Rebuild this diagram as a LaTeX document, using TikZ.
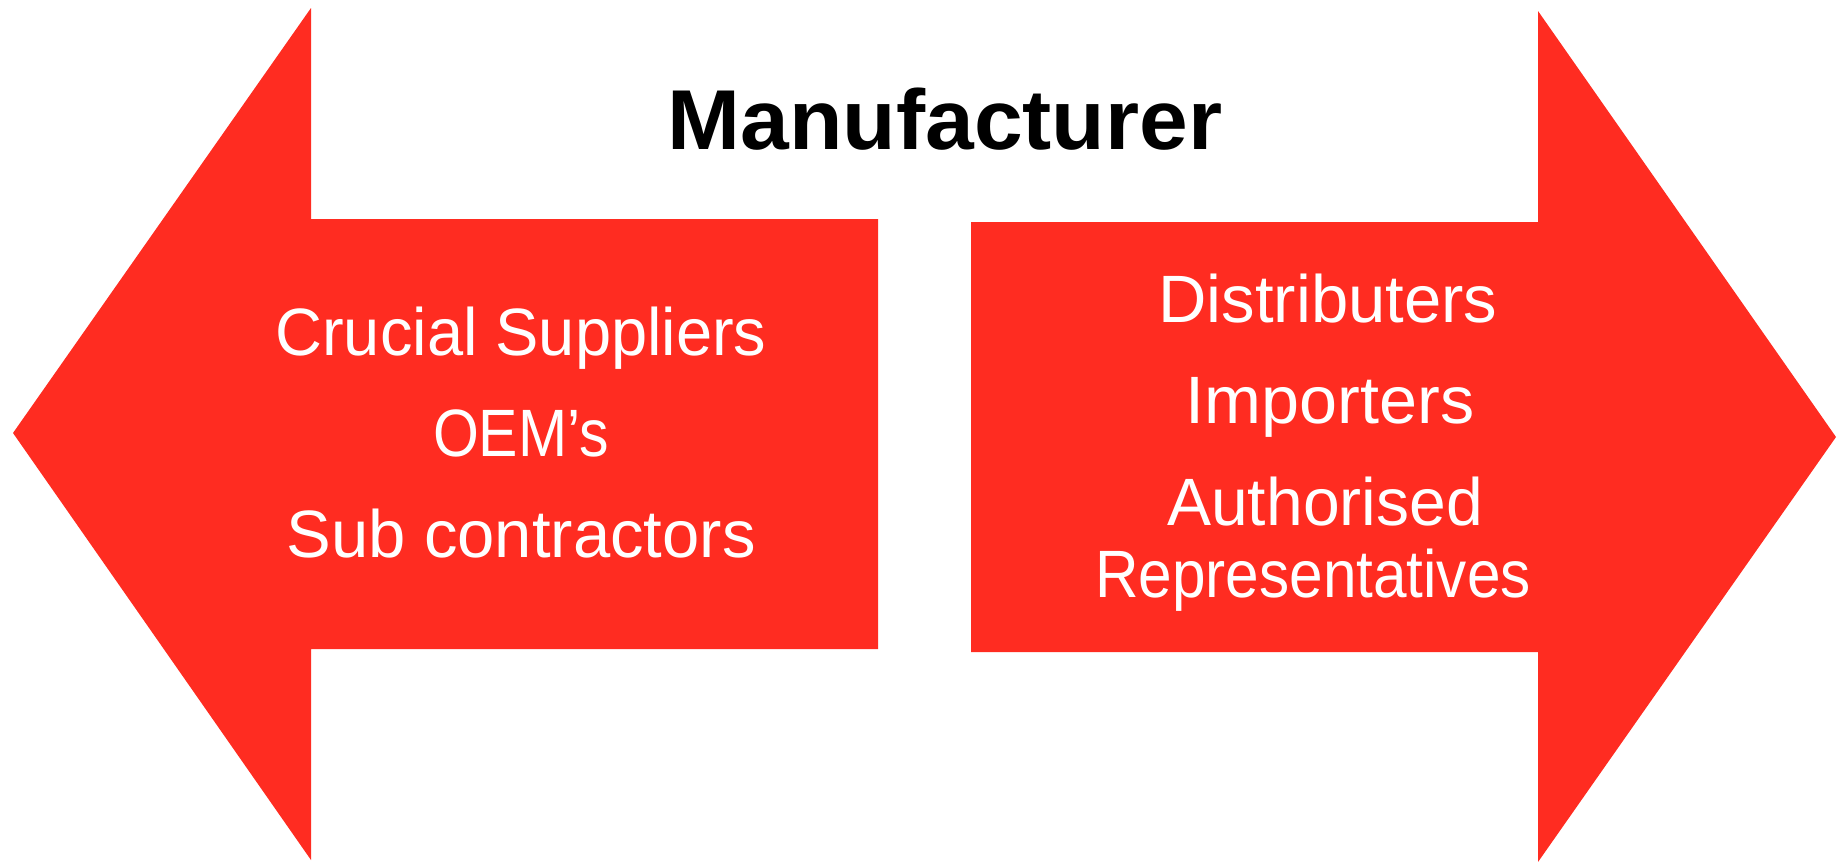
\documentclass[tikz,border=0pt]{standalone}
\usepackage{fontspec}
\usepackage{graphicx}
\setmainfont{Liberation Sans}
\newfontfamily\titlefont[FakeStretch=1.03]{Liberation Sans}
\definecolor{arrowred}{RGB}{255,44,33}
\newcommand{\squeezetext}[2]{\scalebox{#1}[1]{#2}}
\tikzset{
  arrowshape/.style={fill=arrowred, draw=none},
  whitelabel/.style={anchor=base, text=white, inner sep=0pt, font=\fontsize{67}{80}\selectfont},
  titlelabel/.style={anchor=base, text=black, inner sep=0pt, font=\titlefont\bfseries\fontsize{85}{100}\selectfont}
}
\begin{document}
\begin{tikzpicture}[x=1pt,y=-1pt]
\useasboundingbox (0,0) rectangle (1845,862);
% left arrow
\fill[arrowshape] (13,433) -- (311,8) -- (311,219) -- (878,219) -- (878,649) -- (311,649) -- (311,860) -- cycle;
% right arrow
\fill[arrowshape] (1836,437) -- (1538,11) -- (1538,222) -- (971,222) -- (971,652) -- (1538,652) -- (1538,862) -- cycle;
% title
\node[titlelabel] (title) at (945,149) {Manufacturer};
% left texts
\node[whitelabel] (crucial) at (521,355) {\squeezetext{0.97}{Crucial Suppliers}};
\node[whitelabel] (oem) at (521,456) {\squeezetext{0.88}{OEM’s}};
\node[whitelabel] (sub) at (521,557) {Sub contractors};
% right texts
\node[whitelabel] (dist) at (1328,322) {Distributers};
\node[whitelabel] (imp) at (1330,423) {\squeezetext{1.02}{Importers}};
\node[whitelabel] (auth) at (1325,525) {\squeezetext{0.985}{Authorised}};
\node[whitelabel] (rep) at (1313,597) {\squeezetext{0.9}{Representatives}};
\end{tikzpicture}
\end{document}
